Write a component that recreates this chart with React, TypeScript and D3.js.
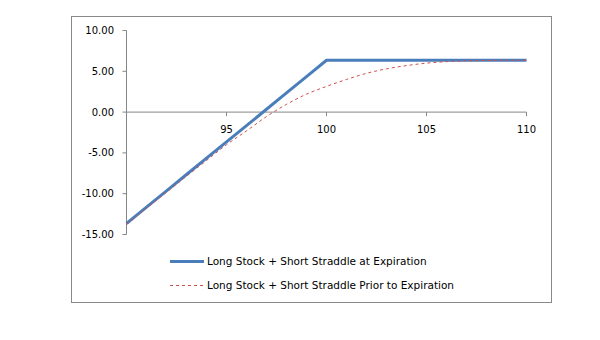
import React from "react";
import * as d3 from "d3";

const xValues = [90, 91, 92, 93, 94, 95, 96, 97, 98, 99, 100, 101, 102, 103, 104, 105, 106, 107, 108, 109, 110];
const expirationValues = [-13.65, -11.65, -9.65, -7.65, -5.65, -3.65, -1.65, 0.35, 2.35, 4.35, 6.35, 6.35, 6.35, 6.35, 6.35, 6.35, 6.35, 6.35, 6.35, 6.35, 6.35];
const priorValues = [-13.75, -11.78, -9.82, -7.86, -5.93, -4.0, -2.3, -0.55, 0.95, 2.2, 3.15, 4.0, 4.75, 5.3, 5.7, 6.0, 6.18, 6.28, 6.33, 6.35, 6.36];
const xTicks = [95, 100, 105, 110];
const yTicks = [10, 5, 0, -5, -10, -15];
const seriesNames = [
  "Long Stock + Short Straddle at Expiration",
  "Long Stock + Short Straddle Prior to Expiration",
];

export default function App() {
  const x = d3.scaleLinear().domain([90, 110]).range([126.5, 526.5]);
  const y = d3.scaleLinear().domain([-15, 10]).range([234.5, 30.5]);
  const line = d3
    .line<number>()
    .x((_, i) => x(xValues[i]))
    .y((d) => y(d));
  const curve = d3
    .line<number>()
    .x((_, i) => x(xValues[i]))
    .y((d) => y(d))
    .curve(d3.curveMonotoneX);
  const axisColor = "#868686";
  const font = "DejaVu Sans, Verdana, sans-serif";
  return (
    <svg
      width={600}
      height={340}
      style={{ position: "absolute", left: 0, top: 0, background: "#fff" }}
      fontFamily={font}
    >
      <rect x={71.5} y={16.5} width={480} height={286} fill="#fff" stroke="#898989" strokeWidth={1} />
      {/* y axis */}
      <line x1={x(90)} x2={x(90)} y1={y(10)} y2={y(-15)} stroke={axisColor} />
      {yTicks.map((t) => (
        <g key={t}>
          <line x1={x(90) - 4} x2={x(90)} y1={y(t)} y2={y(t)} stroke={axisColor} />
          <text x={114} y={y(t)} dy="0.35em" textAnchor="end" fontSize={10} fill="#000">
            {t.toFixed(2)}
          </text>
        </g>
      ))}
      {/* x axis at y=0 */}
      <line x1={x(90)} x2={x(110)} y1={y(0)} y2={y(0)} stroke={axisColor} />
      {xTicks.map((t) => (
        <g key={t}>
          <line x1={x(t)} x2={x(t)} y1={y(0)} y2={y(0) + 4} stroke={axisColor} />
          <text x={x(t)} y={129.5} dy="0.35em" textAnchor="middle" fontSize={10} fill="#000">
            {t}
          </text>
        </g>
      ))}
      <path d={line(expirationValues) || ""} fill="none" stroke="#4A7EBB" strokeWidth={3} strokeLinejoin="round" />
      <path d={curve(priorValues) || ""} fill="none" stroke="#D0504D" strokeWidth={1} strokeDasharray="3,3" />
      {/* legend */}
      <line x1={170} x2={204} y1={261.5} y2={261.5} stroke="#4A7EBB" strokeWidth={3} />
      <text x={207} y={261.5} dy="0.35em" fontSize={10.5} fill="#000">{seriesNames[0]}</text>
      <line x1={170} x2={204} y1={285.5} y2={285.5} stroke="#D0504D" strokeWidth={1} strokeDasharray="3,3" />
      <text x={207} y={285.5} dy="0.35em" fontSize={10.5} fill="#000">{seriesNames[1]}</text>
    </svg>
  );
}
